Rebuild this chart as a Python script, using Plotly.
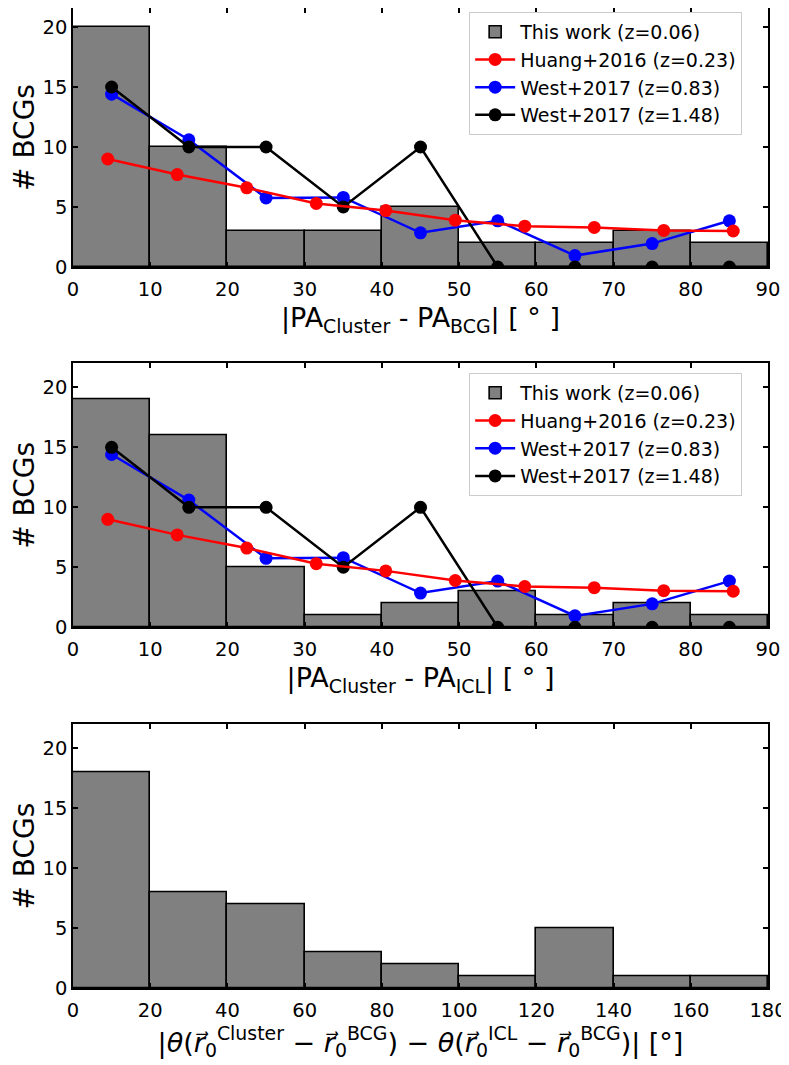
import plotly.graph_objects as go
from plotly.subplots import make_subplots


# histogram of this work, bins of 10 deg (panels 1-2) and 20 deg (panel 3)
bins_pa = [0, 10, 20, 30, 40, 50, 60, 70, 80]
counts_bcg = [20, 10, 3, 3, 5, 2, 2, 3, 2]
counts_icl = [19, 16, 5, 1, 2, 3, 1, 2, 1]

bins_theta = [0, 20, 40, 60, 80, 100, 120, 140, 160]
counts_theta = [18, 8, 7, 3, 2, 1, 5, 1, 1]

# literature comparison
huang_x = [4.5, 13.5, 22.5, 31.5, 40.5, 49.5, 58.5, 67.5, 76.5, 85.5]
huang_y = [9.0, 7.7, 6.6, 5.3, 4.7, 3.9, 3.4, 3.3, 3.05, 3.0]

west_x = [5, 15, 25, 35, 45, 55, 65, 75, 85]
west083_y = [14.4, 10.6, 5.75, 5.8, 2.85, 3.85, 0.95, 1.95, 3.85]
west148_y = [15, 10, 10, 5, 10, 0, 0, 0, 0]

FONT = "DejaVu Sans"


def add_panel(fig, row, bins, counts, width, legend=None):
    fig.add_trace(
        go.Bar(x=bins, y=counts, width=width, offset=0,
               marker_color="#808080",
               marker_line_color="black",
               marker_line_width=1.6,
               name="This work (z=0.06)",
               showlegend=legend is not None,
               legend=legend, legendrank=1), row=row, col=1)
    if legend is None:
        return
    fig.add_trace(
        go.Scatter(x=west_x, y=west083_y, mode="lines+markers",
                   line=dict(color="blue", width=2.5),
                   marker=dict(color="blue", size=13),
                   name="West+2017 (z=0.83)",
                   legend=legend, legendrank=3), row=row, col=1)
    fig.add_trace(
        go.Scatter(x=west_x, y=west148_y, mode="lines+markers",
                   line=dict(color="black", width=2.5),
                   marker=dict(color="black", size=13),
                   name="West+2017 (z=1.48)",
                   legend=legend, legendrank=4), row=row, col=1)
    fig.add_trace(
        go.Scatter(x=huang_x, y=huang_y, mode="lines+markers",
                   line=dict(color="red", width=2.5),
                   marker=dict(color="red", size=13),
                   name="Huang+2016 (z=0.23)",
                   legend=legend, legendrank=2), row=row, col=1)


def main():

    fig = make_subplots(rows=3, cols=1, vertical_spacing=0.05)

    add_panel(fig, 1, bins_pa, counts_bcg, 10, legend="legend")
    add_panel(fig, 2, bins_pa, counts_icl, 10, legend="legend2")
    add_panel(fig, 3, bins_theta, counts_theta, 20)

    fig.update_xaxes(
        automargin=False,
        ticks="inside",
        ticklen=5,
        tickwidth=1.5,
        tickcolor="black",
        showline=True,
        linecolor="black",
        linewidth=1.6,
        mirror="ticks",
        showgrid=False,
        zeroline=False,
        tickfont=dict(family=FONT, size=19.5, color="black"),
        ticklabelstandoff=4,
    )
    fig.update_yaxes(
        automargin=False,
        range=[0, 22],
        dtick=5,
        ticks="inside",
        ticklen=5,
        tickwidth=1.5,
        tickcolor="black",
        showline=True,
        linecolor="black",
        linewidth=1.6,
        mirror="ticks",
        showgrid=False,
        zeroline=False,
        tickfont=dict(family=FONT, size=19.5, color="black"),
        title_text="# BCGs",
        title_font=dict(family=FONT, size=28, color="black"),
        title_standoff=10,
    )
    # the page adds an 8px body margin, so the top panel loses a few pixels
    fig.update_yaxes(range=[0, 21.58], row=1, col=1)

    fig.update_xaxes(range=[0, 90], dtick=10, row=1, col=1,
                     title_text="|PA<sub>Cluster</sub> - PA<sub>BCG</sub>| [ ° ]")
    fig.update_xaxes(range=[0, 90], dtick=10, row=2, col=1,
                     title_text="|PA<sub>Cluster</sub> - PA<sub>ICL</sub>| [ ° ]")
    fig.update_xaxes(range=[0, 180], dtick=20, row=3, col=1,
                     title_text="|<i>θ</i>(<i>r⃗</i><sub>0</sub><sup>Cluster</sup> − <i>r⃗</i><sub>0</sub><sup>BCG</sup>)"
                                " − <i>θ</i>(<i>r⃗</i><sub>0</sub><sup>ICL</sup> − <i>r⃗</i><sub>0</sub><sup>BCG</sup>)| [°]")
    fig.update_xaxes(title_font=dict(family=FONT, size=27, color="black"),
                     title_standoff=8)

    fig.update_layout(
        yaxis_domain=[0.7357, 1.0],
        yaxis2_domain=[0.3681, 0.6374],
        yaxis3_domain=[0.0, 0.2691],
    )

    legend_style = dict(
        x=0.57, xanchor="left", yanchor="top",
        bgcolor="rgba(255,255,255,0.8)",
        bordercolor="#cccccc", borderwidth=1,
        font=dict(family=FONT, size=19, color="black"),
        itemwidth=40,
        tracegroupgap=0,
    )

    fig.update_layout(
        width=781,
        height=1057,
        margin=dict(l=65, r=21, t=0, b=77, autoexpand=False),
        paper_bgcolor="white",
        plot_bgcolor="white",
        font_family=FONT,
        bargap=0,
        legend=dict(y=0.996, **legend_style),
        legend2=dict(y=0.6276, **legend_style),
    )

    fig.write_html("out.html")


if __name__ == "__main__":

    main()
